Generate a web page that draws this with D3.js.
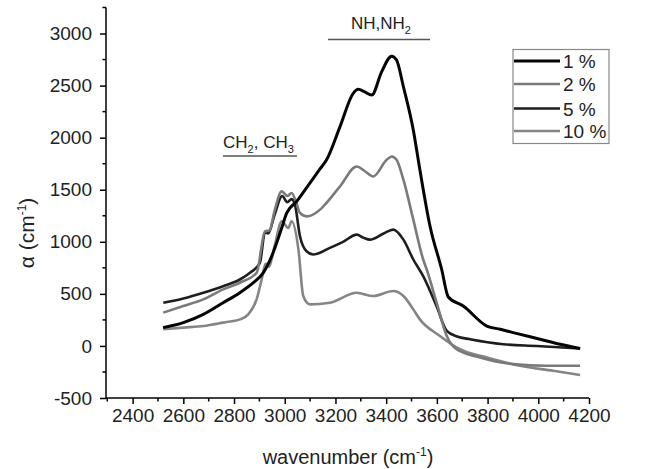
<!DOCTYPE html>
<html><head><meta charset="utf-8">
<script src="https://cdn.jsdelivr.net/npm/d3@7"></script>
<style>body{margin:0;background:#fff}svg{display:block}text{font-family:"Liberation Sans",Arial,sans-serif;fill:#222}</style>
</head><body>
<svg id="c" width="660" height="469"></svg>
<script>
const seriesNames = ["1 %", "2 %", "5 %", "10 %"];
const s1 = [[2520,176],[2600,224],[2679,303],[2757,415],[2823,511],[2876,607],[2915,702],[2950,870],[2985,1110],[3008,1277],[3047,1388],[3099,1564],[3139,1700],[3165,1787],[3218,2106],[3270,2426],[3290,2464],[3315,2440],[3343,2409],[3382,2632],[3422,2783],[3441,2745],[3468,2489],[3507,2074],[3533,1691],[3573,1149],[3619,734],[3645,470],[3704,383],[3797,191],[3850,160],[3901,128],[4007,64],[4086,16],[4165,-25]];
const s2 = [[2521,320],[2600,383],[2679,447],[2757,543],[2823,607],[2889,702],[2922,1100],[2940,1110],[2960,1300],[2988,1484],[3010,1440],[3027,1468],[3045,1380],[3060,1277],[3086,1244],[3139,1309],[3152,1340],[3218,1532],[3284,1723],[3315,1680],[3349,1627],[3402,1787],[3422,1819],[3441,1787],[3468,1596],[3507,1213],[3546,830],[3560,734],[3599,415],[3639,96],[3678,-32],[3770,-111],[3901,-175],[4033,-191],[4165,-191]];
const s5 = [[2521,415],[2600,456],[2679,511],[2757,574],[2823,638],[2863,702],[2902,798],[2922,1090],[2935,1080],[2960,1260],[2990,1440],[3010,1380],[3027,1410],[3040,1360],[3060,1053],[3086,909],[3112,878],[3178,942],[3230,1000],[3284,1069],[3310,1040],[3336,1021],[3390,1080],[3428,1117],[3468,1021],[3507,830],[3546,670],[3599,380],[3639,144],[3680,90],[3731,64],[3862,16],[3994,0],[4165,-25]];
const s10 = [[2521,160],[2600,176],[2679,191],[2757,224],[2823,255],[2856,303],[2889,447],[2909,638],[2925,790],[2937,760],[2960,960],[2988,1197],[3014,1133],[3027,1197],[3054,925],[3073,479],[3099,399],[3178,415],[3284,511],[3349,479],[3428,527],[3468,479],[3507,351],[3533,255],[3612,96],[3691,-32],[3797,-111],[3928,-191],[4059,-239],[4165,-280]];
const xMajorTicks = [2400,2600,2800,3000,3200,3400,3600,3800,4000,4200];
const xMinorTicks = [2300,2500,2700,2900,3100,3300,3500,3700,3900,4100];
const yMajorTicks = [-500,0,500,1000,1500,2000,2500,3000];
const yMinorTicks = [-250,250,750,1250,1750,2250,2750,3250];

const series = [
  {name: seriesNames[0], data: s1, color: "#050505", w: 3},
  {name: seriesNames[1], data: s2, color: "#7a7a7a", w: 2.6},
  {name: seriesNames[2], data: s5, color: "#1e1e1e", w: 2.6},
  {name: seriesNames[3], data: s10, color: "#858585", w: 2.6}
];

const svg = d3.select("#c");
const x = d3.scaleLinear().domain([2295, 4200]).range([106, 589]);
const y = d3.scaleLinear().domain([-500, 3250]).range([398, 7.5]);
const fmt = d => String(d);

// axes
const fs = 19;
const xAxis = d3.axisBottom(x).tickValues(xMajorTicks).tickFormat(fmt).tickSize(6).tickSizeOuter(0).tickPadding(5);
const gx = svg.append("g").attr("transform", `translate(0,${y(-500)})`).call(xAxis);
gx.selectAll("text").style("font-size", fs + "px").attr("fill", "#222");
gx.append("g").selectAll("line").data(xMinorTicks).join("line")
  .attr("x1", d => x(d)).attr("x2", d => x(d)).attr("y1", 0).attr("y2", 3.5).attr("stroke", "#000").attr("stroke-width", 1.5);
gx.select(".domain").attr("stroke-width", 1.5).attr("d", `M${x(2295)},0H${x(4200)}`);
gx.selectAll(".tick line").attr("stroke-width", 1.5);

const yAxis = d3.axisLeft(y).tickValues(yMajorTicks).tickFormat(fmt).tickSize(6).tickSizeOuter(0).tickPadding(8);
const gy = svg.append("g").attr("transform", `translate(${x(2295)},0)`).call(yAxis);
gy.selectAll("text").style("font-size", fs + "px").attr("fill", "#222");
gy.append("g").selectAll("line").data(yMinorTicks).join("line")
  .attr("y1", d => y(d)).attr("y2", d => y(d)).attr("x1", 0).attr("x2", -3.5).attr("stroke", "#000").attr("stroke-width", 1.5);
gy.select(".domain").attr("stroke-width", 1.5).attr("d", `M0,${y(-500)}V${y(3250)}`);
gy.selectAll(".tick line").attr("stroke-width", 1.5);

// axis titles
const xt = svg.append("text").attr("x", 348).attr("y", 464).attr("text-anchor", "middle").style("font-size", "20px");
xt.append("tspan").text("wavenumber (cm");
xt.append("tspan").text("-1").attr("dy", -8).style("font-size", "12px");
xt.append("tspan").text(")").attr("dy", 8);

const yt = svg.append("text").attr("transform", "translate(34,233) rotate(-90)").attr("text-anchor", "middle").style("font-size", "21px");
yt.append("tspan").text("α (cm");
yt.append("tspan").text("-1").attr("dy", -8).style("font-size", "12px");
yt.append("tspan").text(")").attr("dy", 8);

// curves
const line = d3.line().curve(d3.curveMonotoneX).x(d => x(d[0])).y(d => y(d[1]));
series.slice().reverse().forEach(s => {
  svg.append("path").datum(s.data).attr("d", line).attr("fill", "none")
    .attr("stroke", s.color).attr("stroke-width", s.w).attr("stroke-linejoin", "round");
});

// annotations
svg.append("line").attr("x1", 328).attr("x2", 430).attr("y1", 39.5).attr("y2", 39.5).attr("stroke", "#555").attr("stroke-width", 1.3);
const a1 = svg.append("text").attr("x", 351).attr("y", 29).style("font-size", "17px");
a1.append("tspan").text("NH,NH");
a1.append("tspan").text("2").attr("dy", 5).style("font-size", "11px");

svg.append("line").attr("x1", 223).attr("x2", 297).attr("y1", 156).attr("y2", 156).attr("stroke", "#555").attr("stroke-width", 1.3);
const a2 = svg.append("text").attr("x", 223).attr("y", 148).style("font-size", "17px");
a2.append("tspan").text("CH");
a2.append("tspan").text("2").attr("dy", 5).style("font-size", "11px");
a2.append("tspan").text(", CH").attr("dy", -5);
a2.append("tspan").text("3").attr("dy", 5).style("font-size", "11px");

// legend
const lg = svg.append("g");
lg.append("rect").attr("x", 513).attr("y", 49.5).attr("width", 96).attr("height", 94)
  .attr("fill", "#fff").attr("stroke", "#888").attr("stroke-width", 1.2);
const ly = [61, 84, 108.5, 131];
series.forEach((s, i) => {
  lg.append("line").attr("x1", 514).attr("x2", 560).attr("y1", ly[i]).attr("y2", ly[i])
    .attr("stroke", s.color).attr("stroke-width", s.w);
  lg.append("text").attr("x", 563).attr("y", ly[i] + 7).style("font-size", "19px").text(s.name);
});
</script>
</body></html>
